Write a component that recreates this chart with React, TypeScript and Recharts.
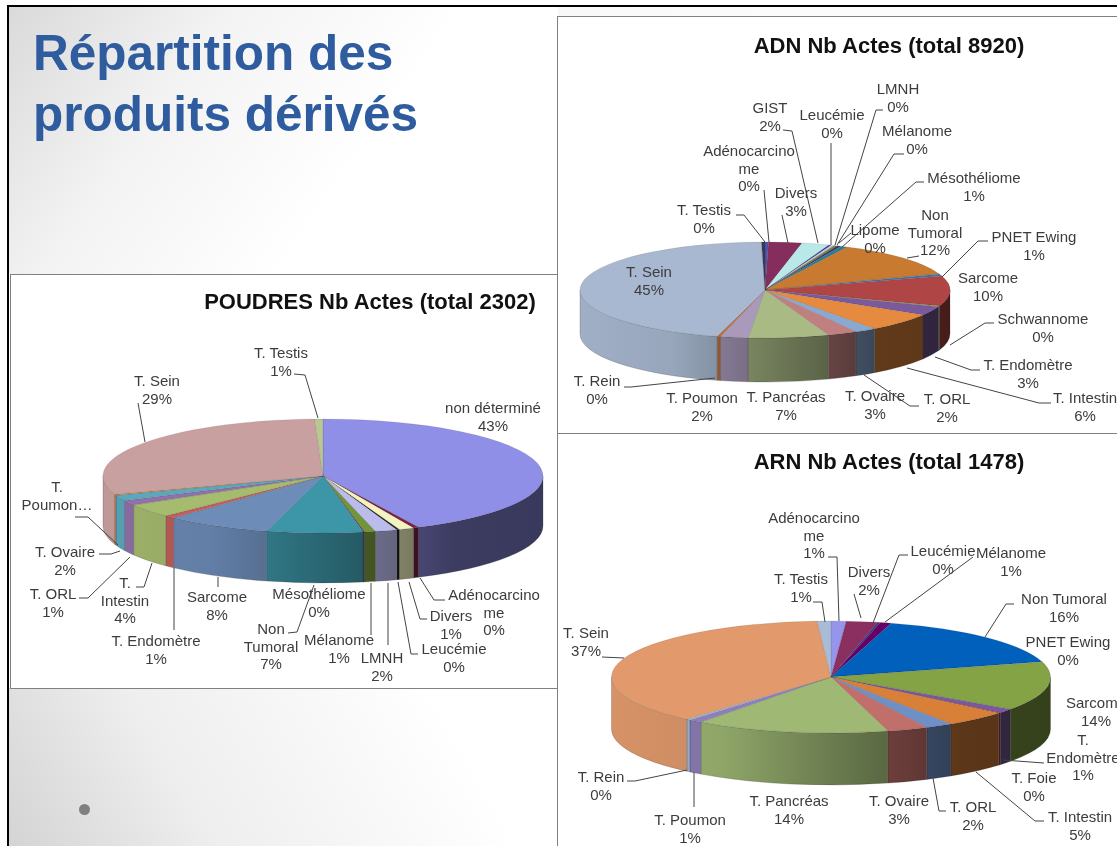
import { PieChart, Pie } from "recharts";

type Pt = [number, number];

const FONT = '"Liberation Sans", Arial, sans-serif';

// POUDRES
const poudresCategories = ["non déterminé", "Adénocarcinome", "Divers", "Leucémie", "LMNH", "Mélanome", "Mésothéliome", "Non Tumoral", "Sarcome", "T. Endomètre", "T. Intestin", "T. ORL", "T. Ovaire", "T. Poumon", "T. Sein", "T. Testis"];
const poudresValues = [42.6, 0.4, 1.1, 0.2, 1.6, 0.8, 0.1, 7, 7.7, 0.8, 3.8, 1.4, 1.6, 0.3, 29.4, 0.6];
const poudresColors = ["#8f8fe8", "#7a2348", "#f4f4c0", "#222222", "#bcbcec", "#72943a", "#5a2a6a", "#3d96a8", "#6d8cb8", "#c0605a", "#a5bb6e", "#8f72a8", "#5aa8bc", "#d08040", "#c9a0a0", "#b8c890"];
const poudresLines = [["non déterminé"], ["Adénocarcino", "me"], ["Divers"], ["Leucémie"], ["LMNH"], ["Mélanome"], ["Mésothéliome"], ["Non", "Tumoral"], ["Sarcome"], ["T. Endomètre"], ["T.", "Intestin"], ["T. ORL"], ["T. Ovaire"], ["T.", "Poumon…"], ["T. Sein"], ["T. Testis"]];
const poudresLabelPos: Pt[] = [[493, 408], [494, 595], [451, 616], [454, 649], [382, 658], [339, 640], [319, 594], [271, 629], [217, 597], [156, 641], [125, 583], [53, 594], [65, 552], [57, 487], [157, 381], [281, 353]];
const poudresLeaders: Pt[][] = [
  [],
  [[445, 600], [434, 600], [420, 578]],
  [[427, 619], [420, 619], [409, 582]],
  [[418, 654], [411, 654], [398, 582]],
  [[388, 645], [388, 583]],
  [[371, 635], [371, 583]],
  [],
  [[288, 633], [297, 632], [314, 585]],
  [[218, 587], [218, 577]],
  [[174, 630], [174, 568]],
  [[136, 587], [144, 587], [152, 563]],
  [[79, 598], [88, 598], [130, 557]],
  [[99, 554], [111, 554], [120, 551]],
  [[75, 517], [88, 517], [118, 545]],
  [[138, 403], [145, 442]],
  [[294, 374], [305, 375], [318, 418]],
];

// ADN
const adnCategories = ["Adénocarcinome", "Divers", "GIST", "Leucémie", "LMNH", "Lipome", "Mélanome", "Mésothéliome", "Non Tumoral", "PNET Ewing", "Sarcome", "Schwannome", "T. Endomètre", "T. Intestin", "T. ORL", "T. Ovaire", "T. Pancréas", "T. Poumon", "T. Rein", "T. Sein", "T. Testis"];
const adnValues = [0.3, 2.9, 2.4, 0.2, 0.3, 0.3, 0.3, 0.6, 12.2, 0.7, 10.1, 0.3, 3, 6.2, 1.9, 2.6, 7, 2.4, 0.3, 45.4, 0.3];
const adnColors = ["#4a55b8", "#852d5c", "#b8e8e8", "#3a3a80", "#c8c8f0", "#708a3a", "#4a2a70", "#2a8090", "#c87a30", "#3a78b0", "#b04545", "#8aa050", "#7a5a9a", "#e68a3f", "#8aa8d0", "#c08080", "#a9ba85", "#a99abc", "#b87040", "#a8b8d0", "#3a3a50"];
const adnLines = [["Adénocarcino", "me"], ["Divers"], ["GIST"], ["Leucémie"], ["LMNH"], ["Lipome"], ["Mélanome"], ["Mésothéliome"], ["Non", "Tumoral"], ["PNET Ewing"], ["Sarcome"], ["Schwannome"], ["T. Endomètre"], ["T. Intestin"], ["T. ORL"], ["T. Ovaire"], ["T. Pancréas"], ["T. Poumon"], ["T. Rein"], ["T. Sein"], ["T. Testis"]];
const adnLabelPos: Pt[] = [[749, 151], [796, 193], [770, 108], [832, 115], [898, 89], [875, 230], [917, 131], [974, 178], [935, 215], [1034, 237], [988, 278], [1043, 319], [1028, 365], [1085, 398], [947, 399], [875, 396], [786, 397], [702, 398], [597, 381], [649, 272], [704, 210]];
const adnLeaders: Pt[][] = [
  [[764, 190], [769, 242]],
  [[782, 215], [788, 243]],
  [[783, 130], [792, 131], [818, 243]],
  [[831, 143], [831, 245]],
  [[883, 110], [876, 110], [835, 245]],
  [[851, 233], [839, 243]],
  [[904, 154], [894, 154], [837, 245]],
  [[924, 182], [916, 182], [842, 247]],
  [[919, 256], [907, 258]],
  [[988, 241], [978, 241], [942, 277]],
  [],
  [[994, 323], [985, 323], [950, 345]],
  [[980, 370], [971, 370], [935, 357]],
  [[1051, 403], [1039, 403], [907, 368]],
  [[919, 406], [910, 406], [864, 375]],
  [],
  [],
  [],
  [[624, 387], [631, 387], [715, 378]],
  [],
  [[736, 215], [744, 215], [765, 242]],
];

// ARN
const arnCategories = ["Adénocarcinome", "Divers", "Leucémie", "Mélanome", "Non Tumoral", "PNET Ewing", "Sarcome", "T. Endomètre", "T. Foie", "T. Intestin", "T. ORL", "T. Ovaire", "T. Pancréas", "T. Poumon", "T. Rein", "T. Sein", "T. Testis"];
const arnValues = [1.1, 2.3, 0.2, 0.8, 16.1, 0.1, 14, 1.2, 0.2, 4.6, 2, 3, 14.2, 1, 0.3, 37.4, 1];
const arnColors = ["#9595ec", "#8a2f60", "#3a3a80", "#660066", "#0060bc", "#d0d0e0", "#84a344", "#7a5a9a", "#c04040", "#d98038", "#6f90c6", "#c06f6a", "#9fb874", "#8f7fb8", "#a0b8d8", "#e29a6c", "#a8bcd6"];
const arnLines = [["Adénocarcino", "me"], ["Divers"], ["Leucémie"], ["Mélanome"], ["Non Tumoral"], ["PNET Ewing"], ["Sarcome"], ["T.", "Endomètre"], ["T. Foie"], ["T. Intestin"], ["T. ORL"], ["T. Ovaire"], ["T. Pancréas"], ["T. Poumon"], ["T. Rein"], ["T. Sein"], ["T. Testis"]];
const arnLabelPos: Pt[] = [[814, 518], [869, 572], [943, 551], [1011, 553], [1064, 599], [1068, 642], [1096, 703], [1083, 740], [1034, 778], [1080, 817], [973, 807], [899, 801], [789, 801], [690, 820], [601, 777], [586, 633], [801, 579]];
const arnLeaders: Pt[][] = [
  [[828, 557], [837, 557], [839, 621]],
  [[854, 594], [861, 618]],
  [[908, 555], [899, 555], [873, 623]],
  [[973, 557], [885, 622]],
  [[1014, 604], [1006, 604], [985, 637]],
  [],
  [],
  [[1044, 763], [1003, 760]],
  [],
  [[1044, 821], [1035, 821], [976, 772]],
  [[946, 811], [939, 811], [933, 778]],
  [],
  [],
  [[694, 807], [694, 772]],
  [[627, 781], [635, 781], [687, 770]],
  [[602, 657], [624, 658]],
  [[813, 602], [822, 602], [825, 622]],
];

// wall shading along the pie's width, -1 = left edge, 1 = right edge
const wallShade: Pt[] = [[-1, 0.95], [-0.5, 0.9], [-0.1, 0.72], [0.3, 0.55], [0.6, 0.42], [1, 0.4]];

function darken(hex: string, k: number): string {
  const n = parseInt(hex.slice(1), 16);
  const c = (v: number) => Math.round(v * k);
  return `rgb(${c((n >> 16) & 255)},${c((n >> 8) & 255)},${c(n & 255)})`;
}

function makeSlice(id: string, ry: number, depth: number) {
  return function Slice(props: any) {
    const { cx, cy, outerRadius: rx, startAngle, endAngle, fill, index } = props;
    const pt = (deg: number, dy = 0) => {
      const r = (deg * Math.PI) / 180;
      return `${cx + rx * Math.cos(r)} ${cy - ry * Math.sin(r) + dy}`;
    };
    const hi = Math.max(startAngle, endAngle);
    const lo = Math.min(startAngle, endAngle);
    const large = hi - lo > 180 ? 1 : 0;
    const top = `M${cx} ${cy}L${pt(hi)}A${rx} ${ry} 0 ${large} 1 ${pt(lo)}Z`;
    // only the part facing the viewer gets a wall
    const wallHi = Math.min(hi, 0);
    const wallLo = Math.max(lo, -180);
    const gradId = `${id}-wall-${index}`;
    return (
      <g>
        {wallHi > wallLo && (
          <>
            <defs>
              <linearGradient id={gradId} gradientUnits="userSpaceOnUse" x1={cx - rx} x2={cx + rx} y1={0} y2={0}>
                {wallShade.map(([t, k]) => (
                  <stop key={t} offset={(t + 1) / 2} stopColor={darken(fill, k)} />
                ))}
              </linearGradient>
            </defs>
            <path
              d={`M${pt(wallHi)}A${rx} ${ry} 0 0 1 ${pt(wallLo)}L${pt(wallLo, depth)}A${rx} ${ry} 0 0 0 ${pt(wallHi, depth)}Z`}
              fill={`url(#${gradId})`}
              stroke="#222"
              strokeOpacity={0.35}
              strokeWidth={0.6}
            />
          </>
        )}
        <path d={top} fill={fill} stroke="#222" strokeOpacity={0.2} strokeWidth={0.5} />
      </g>
    );
  };
}

function makeLabel(lines: string[][], pos: Pt[], leaders: Pt[][]) {
  return function SliceLabel(props: any) {
    const { index, value } = props;
    const [x, y] = pos[index];
    const name = lines[index];
    const rows = name[name.length - 1].endsWith("…") ? name : [...name, `${Math.round(value)}%`];
    const leader = leaders[index];
    return (
      <g>
        {leader.length > 0 && (
          <polyline points={leader.map((p) => p.join(",")).join(" ")} fill="none" stroke="#444" strokeWidth={1} />
        )}
        <text x={x} y={y + 5} textAnchor="middle" fontSize={15} fontFamily={FONT} fill="#3c3c3c">
          {rows.map((r, i) => (
            <tspan key={i} x={x} y={y + 5 + i * 17.5}>
              {r}
            </tspan>
          ))}
        </text>
      </g>
    );
  };
}

function toData(categories: string[], values: number[], colors: string[]) {
  return categories.map((name, i) => ({ name, value: values[i], fill: colors[i] }));
}

function ChartTitle({ x, y, children }: { x: number; y: number; children: string }) {
  return (
    <div style={{ position: "absolute", left: x - 250, top: y - 14, width: 500, height: 28, lineHeight: "28px", textAlign: "center", fontFamily: FONT, fontWeight: "bold", fontSize: 22, color: "#111", whiteSpace: "nowrap" }}>
      {children}
    </div>
  );
}

const boxBorder = "1.5px solid #808080";

export default function App() {
  return (
    <div style={{ position: "fixed", left: 0, top: 0, width: 1117, height: 846, overflow: "hidden", background: "#fff", filter: "blur(0.5px)" }}>
      {/* slide frame */}
      <div style={{ position: "absolute", left: 7, top: 5, width: 1110, height: 841, borderTop: "2px solid #000", borderLeft: "2px solid #000", boxSizing: "border-box" }} />
      <div style={{ position: "absolute", left: 9, top: 7, width: 549, height: 267, background: "linear-gradient(125deg,#dadada 0%,#f3f3f3 30%,#fff 62%)" }} />
      <div style={{ position: "absolute", left: 9, top: 688, width: 549, height: 158, background: "linear-gradient(60deg,#d4d4d4 0%,#eeeeee 32%,#fff 80%)" }} />
      <div style={{ position: "absolute", left: 558, top: 7, width: 559, height: 10, background: "linear-gradient(90deg,#f8f8f8,#fff)" }} />
      <div style={{ position: "absolute", left: 33, top: 22, fontFamily: FONT, fontWeight: "bold", fontSize: 49.5, lineHeight: "61px", color: "#2e5c9e", whiteSpace: "nowrap" }}>
        Répartition des
        <br />
        produits dérivés
      </div>
      <div style={{ position: "absolute", left: 79, top: 804, width: 11, height: 11, borderRadius: "50%", background: "#808080" }} />

      {/* chart boxes */}
      <div style={{ position: "absolute", left: 10, top: 274, width: 548, height: 415, border: boxBorder, boxSizing: "border-box", background: "#fff" }} />
      <div style={{ position: "absolute", left: 557, top: 16, width: 570, height: 418, border: boxBorder, boxSizing: "border-box", background: "#fff" }} />
      <div style={{ position: "absolute", left: 557, top: 433, width: 570, height: 430, border: boxBorder, boxSizing: "border-box", background: "#fff" }} />
      <ChartTitle x={370} y={302}>POUDRES Nb Actes (total 2302)</ChartTitle>
      <ChartTitle x={889} y={46}>ADN Nb Actes (total 8920)</ChartTitle>
      <ChartTitle x={889} y={462}>ARN Nb Actes (total 1478)</ChartTitle>

      <div style={{ position: "absolute", left: 0, top: 0 }}>
        <PieChart width={1117} height={846} margin={{ top: 0, right: 0, bottom: 0, left: 0 }}>
          <Pie
            data={toData(poudresCategories, poudresValues, poudresColors)}
            dataKey="value"
            nameKey="name"
            cx={323}
            cy={476}
            outerRadius={220}
            startAngle={90}
            endAngle={-270}
            isAnimationActive={false}
            shape={makeSlice("poudres", 57, 50)}
            label={makeLabel(poudresLines, poudresLabelPos, poudresLeaders)}
            labelLine={false}
          />
          <Pie
            data={toData(adnCategories, adnValues, adnColors)}
            dataKey="value"
            nameKey="name"
            cx={765}
            cy={290}
            outerRadius={185}
            startAngle={90}
            endAngle={-270}
            isAnimationActive={false}
            shape={makeSlice("adn", 48, 44)}
            label={makeLabel(adnLines, adnLabelPos, adnLeaders)}
            labelLine={false}
          />
          <Pie
            data={toData(arnCategories, arnValues, arnColors)}
            dataKey="value"
            nameKey="name"
            cx={831}
            cy={677}
            outerRadius={219.5}
            startAngle={90}
            endAngle={-270}
            isAnimationActive={false}
            shape={makeSlice("arn", 56, 52)}
            label={makeLabel(arnLines, arnLabelPos, arnLeaders)}
            labelLine={false}
          />
        </PieChart>
      </div>
    </div>
  );
}
